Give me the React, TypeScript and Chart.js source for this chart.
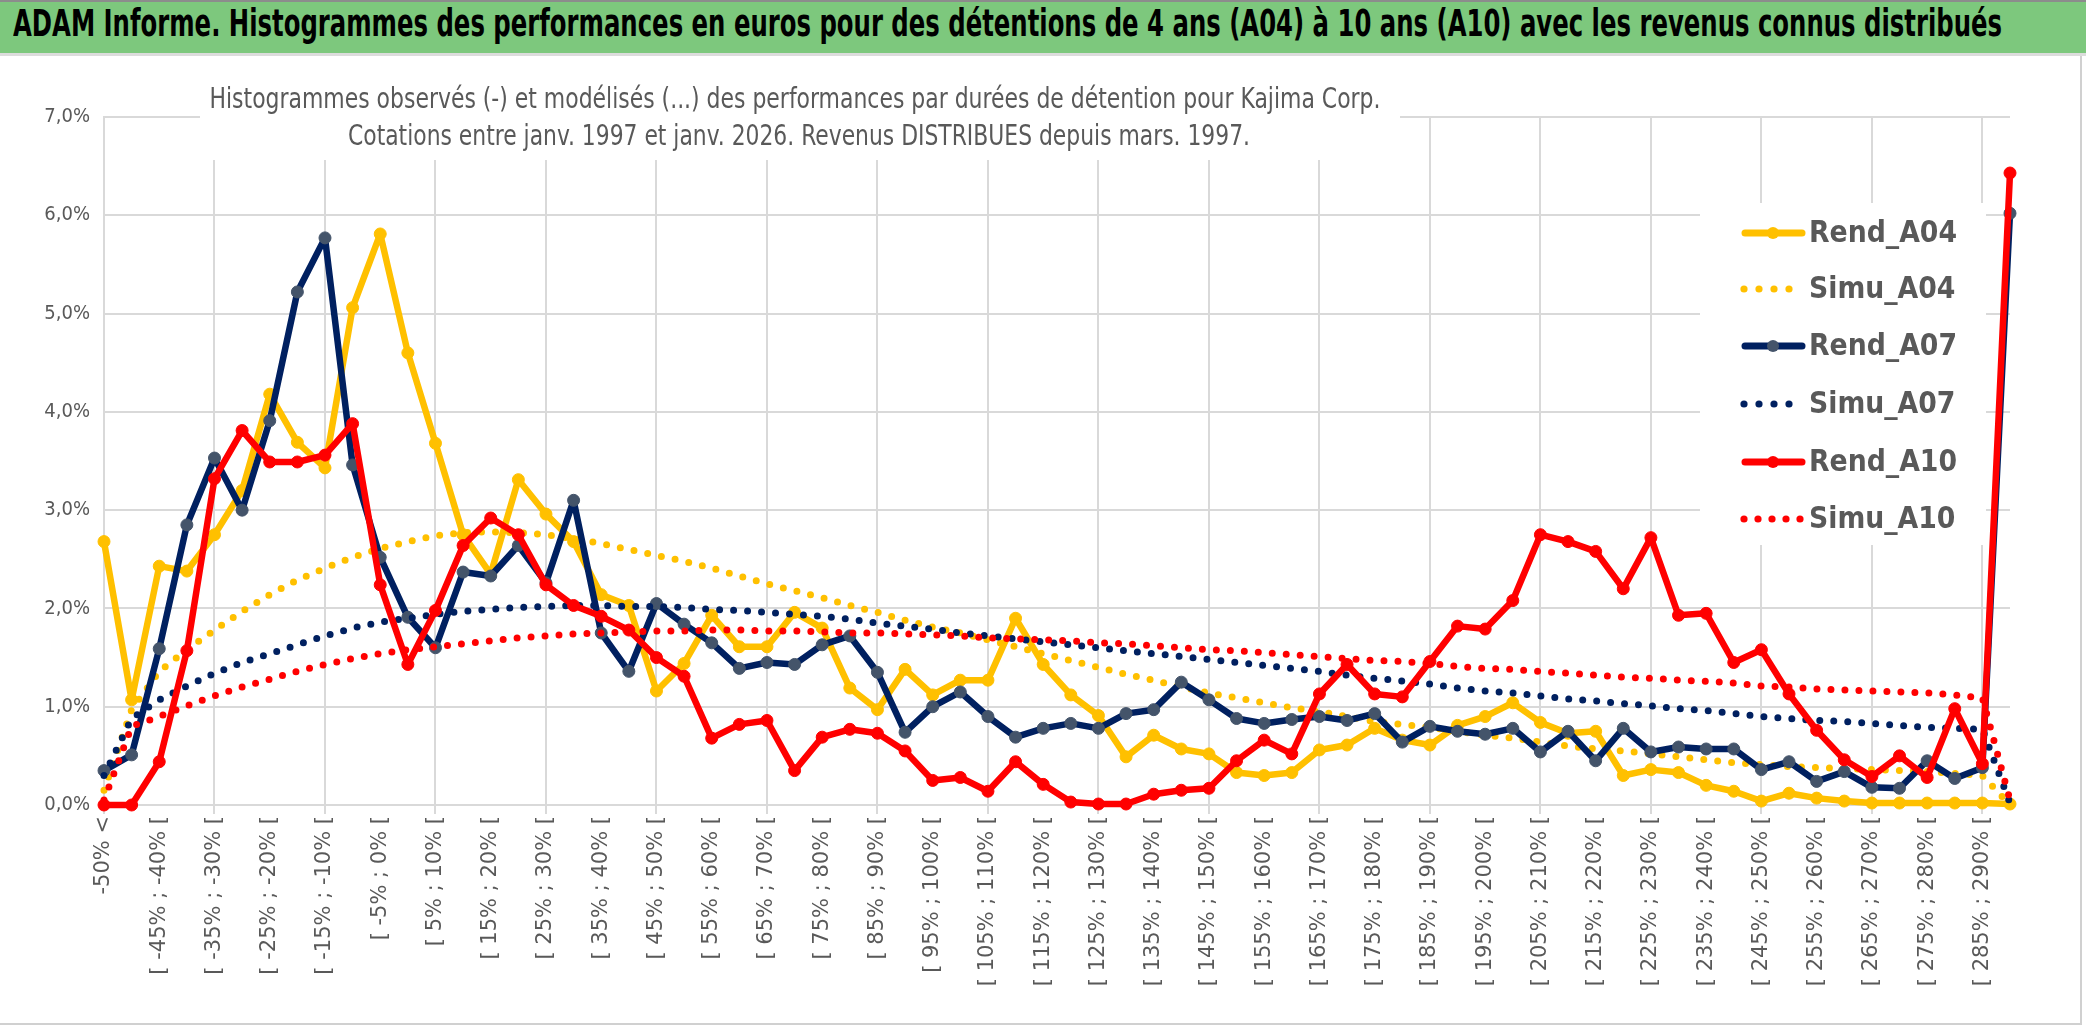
import React, { useEffect, useRef } from 'react';
import { Chart, registerables } from 'chart.js';

Chart.register(...registerables);

const categories: string[] = [
  '-50% <',
  '[ -50% ; -45% [', '[ -45% ; -40% [', '[ -40% ; -35% [', '[ -35% ; -30% [',
  '[ -30% ; -25% [', '[ -25% ; -20% [', '[ -20% ; -15% [', '[ -15% ; -10% [',
  '[ -10% ; -5% [', '[ -5% ; 0% [', '[ 0% ; 5% [', '[ 5% ; 10% [',
  '[ 10% ; 15% [', '[ 15% ; 20% [', '[ 20% ; 25% [', '[ 25% ; 30% [',
  '[ 30% ; 35% [', '[ 35% ; 40% [', '[ 40% ; 45% [', '[ 45% ; 50% [',
  '[ 50% ; 55% [', '[ 55% ; 60% [', '[ 60% ; 65% [', '[ 65% ; 70% [',
  '[ 70% ; 75% [', '[ 75% ; 80% [', '[ 80% ; 85% [', '[ 85% ; 90% [',
  '[ 90% ; 95% [', '[ 95% ; 100% [', '[ 100% ; 105% [', '[ 105% ; 110% [',
  '[ 110% ; 115% [', '[ 115% ; 120% [', '[ 120% ; 125% [', '[ 125% ; 130% [',
  '[ 130% ; 135% [', '[ 135% ; 140% [', '[ 140% ; 145% [', '[ 145% ; 150% [',
  '[ 150% ; 155% [', '[ 155% ; 160% [', '[ 160% ; 165% [', '[ 165% ; 170% [',
  '[ 170% ; 175% [', '[ 175% ; 180% [', '[ 180% ; 185% [', '[ 185% ; 190% [',
  '[ 190% ; 195% [', '[ 195% ; 200% [', '[ 200% ; 205% [', '[ 205% ; 210% [',
  '[ 210% ; 215% [', '[ 215% ; 220% [', '[ 220% ; 225% [', '[ 225% ; 230% [',
  '[ 230% ; 235% [', '[ 235% ; 240% [', '[ 240% ; 245% [', '[ 245% ; 250% [',
  '[ 250% ; 255% [', '[ 255% ; 260% [', '[ 260% ; 265% [', '[ 265% ; 270% [',
  '[ 270% ; 275% [', '[ 275% ; 280% [', '[ 280% ; 285% [', '[ 285% ; 290% [',
  '> 290%',
];

const rendA04: number[] = [
  2.68, 1.07, 2.43, 2.38, 2.75, 3.20, 4.18, 3.69, 3.43, 5.06,
  5.81, 4.60, 3.68, 2.75, 2.35, 3.31, 2.96, 2.68, 2.14, 2.03,
  1.16, 1.44, 1.93, 1.61, 1.61, 1.96, 1.80, 1.19, 0.97, 1.38,
  1.12, 1.27, 1.27, 1.90, 1.43, 1.12, 0.91, 0.49, 0.71, 0.57,
  0.52, 0.33, 0.30, 0.33, 0.56, 0.61, 0.78, 0.66, 0.61, 0.81,
  0.90, 1.04, 0.84, 0.73, 0.75, 0.30, 0.36, 0.33, 0.20, 0.14,
  0.04, 0.12, 0.07, 0.04, 0.02, 0.02, 0.02, 0.02, 0.02, 0.01,
];

const simuA04: number[] = [
  0.15, 0.97, 1.36, 1.58, 1.78, 1.97, 2.14, 2.29, 2.41, 2.52,
  2.61, 2.68, 2.74, 2.77, 2.78, 2.77, 2.75, 2.71, 2.66, 2.60,
  2.54, 2.48, 2.41, 2.33, 2.25, 2.18, 2.11, 2.03, 1.96, 1.88,
  1.81, 1.75, 1.68, 1.61, 1.54, 1.47, 1.40, 1.33, 1.27, 1.20,
  1.14, 1.09, 1.04, 0.99, 0.95, 0.90, 0.85, 0.82, 0.79, 0.75,
  0.71, 0.68, 0.64, 0.60, 0.57, 0.55, 0.52, 0.49, 0.46, 0.43,
  0.41, 0.39, 0.38, 0.37, 0.36, 0.35, 0.34, 0.32, 0.30, 0.00,
];

const rendA07: number[] = [
  0.35, 0.51, 1.59, 2.85, 3.53, 3.00, 3.91, 5.22, 5.77, 3.46,
  2.52, 1.91, 1.60, 2.37, 2.33, 2.64, 2.26, 3.10, 1.75, 1.36,
  2.05, 1.84, 1.65, 1.39, 1.45, 1.43, 1.63, 1.72, 1.35, 0.74,
  1.00, 1.15, 0.90, 0.69, 0.78, 0.83, 0.78, 0.93, 0.97, 1.25,
  1.07, 0.88, 0.83, 0.87, 0.90, 0.86, 0.93, 0.64, 0.80, 0.75,
  0.72, 0.78, 0.54, 0.75, 0.45, 0.78, 0.54, 0.59, 0.57, 0.57,
  0.36, 0.44, 0.24, 0.34, 0.18, 0.17, 0.45, 0.27, 0.38, 6.02,
];

const simuA07: number[] = [
  0.30, 0.88, 1.07, 1.21, 1.34, 1.45, 1.54, 1.63, 1.72, 1.80,
  1.86, 1.90, 1.94, 1.97, 1.99, 2.01, 2.02, 2.03, 2.03, 2.02,
  2.02, 2.01, 1.99, 1.98, 1.96, 1.94, 1.92, 1.89, 1.85, 1.82,
  1.79, 1.75, 1.72, 1.69, 1.66, 1.63, 1.60, 1.57, 1.54, 1.51,
  1.48, 1.45, 1.42, 1.39, 1.36, 1.32, 1.29, 1.26, 1.23, 1.19,
  1.16, 1.14, 1.11, 1.08, 1.06, 1.03, 1.01, 0.98, 0.96, 0.93,
  0.90, 0.88, 0.86, 0.85, 0.83, 0.81, 0.79, 0.78, 0.77, 0.02,
];

const rendA10: number[] = [
  0.00, 0.00, 0.44, 1.57, 3.32, 3.81, 3.49, 3.49, 3.56, 3.88,
  2.24, 1.43, 1.98, 2.64, 2.92, 2.75, 2.24, 2.03, 1.92, 1.78,
  1.50, 1.31, 0.68, 0.82, 0.86, 0.35, 0.69, 0.77, 0.73, 0.55,
  0.25, 0.28, 0.14, 0.44, 0.21, 0.03, 0.01, 0.01, 0.11, 0.15,
  0.17, 0.45, 0.66, 0.52, 1.13, 1.43, 1.13, 1.10, 1.46, 1.82,
  1.79, 2.08, 2.75, 2.68, 2.58, 2.20, 2.72, 1.93, 1.95, 1.45,
  1.58, 1.13, 0.76, 0.46, 0.29, 0.50, 0.28, 0.98, 0.42, 6.43,
];

const simuA10: number[] = [
  0.05, 0.80, 0.90, 1.01, 1.11, 1.20, 1.28, 1.36, 1.43, 1.49,
  1.54, 1.58, 1.61, 1.64, 1.67, 1.70, 1.72, 1.74, 1.75, 1.76,
  1.77, 1.77, 1.78, 1.78, 1.77, 1.77, 1.76, 1.75, 1.75, 1.74,
  1.73, 1.72, 1.70, 1.69, 1.68, 1.67, 1.65, 1.64, 1.62, 1.60,
  1.58, 1.57, 1.55, 1.53, 1.51, 1.49, 1.47, 1.46, 1.44, 1.41,
  1.39, 1.38, 1.36, 1.34, 1.32, 1.30, 1.29, 1.27, 1.26, 1.24,
  1.21, 1.20, 1.18, 1.17, 1.16, 1.15, 1.14, 1.12, 1.09, 0.05,
];

const yTickLabels: string[] = ['0,0%', '1,0%', '2,0%', '3,0%', '4,0%', '5,0%', '6,0%', '7,0%'];

const seriesNames: string[] = ['Rend_A04', 'Simu_A04', 'Rend_A07', 'Simu_A07', 'Rend_A10', 'Simu_A10'];

const TITLE = 'ADAM Informe. Histogrammes des performances en euros pour des détentions de 4 ans (A04) à 10 ans (A10) avec les revenus connus distribués';
const SUB1 = 'Histogrammes observés (-) et modélisés (...) des performances par durées de détention pour Kajima Corp.';
const SUB2 = 'Cotations entre janv. 1997 et janv. 2026. Revenus DISTRIBUES depuis mars. 1997.';

const YELLOW = '#FFC000';
const NAVY = '#002060';
const NAVY_MARK = '#44546A';
const RED = '#FF0000';
const GRID = '#d9d9d9';
const TXT = '#595959';
const NARROW = "'Liberation Sans Narrow', 'DejaVu Sans Condensed', 'Liberation Sans', sans-serif";

const PAGE_W = 2086;
const PAGE_H = 1031;
const CANVAS_TOP = 56;
const CANVAS_H = PAGE_H - CANVAS_TOP;

function measure(text: string, font: string): number {
  const c = document.createElement('canvas');
  const ctx = c.getContext('2d')!;
  ctx.font = font;
  return ctx.measureText(text).width;
}

function drawFitted(ctx: CanvasRenderingContext2D, text: string, font: string, x: number, y: number, targetW: number, align: CanvasTextAlign) {
  ctx.font = font;
  const w = ctx.measureText(text).width || 1;
  const s = targetW / w;
  ctx.save();
  ctx.translate(x, y);
  ctx.scale(s, 1);
  ctx.textAlign = align;
  ctx.textBaseline = 'middle';
  ctx.fillText(text, 0, 0);
  ctx.restore();
}

const overlayPlugin = {
  id: 'overlayBoxes',
  beforeDatasetsDraw(chart: any) {
    const ctx: CanvasRenderingContext2D = chart.ctx;
    const off = CANVAS_TOP;
    ctx.save();
    // subtitle box
    ctx.fillStyle = '#ffffff';
    ctx.fillRect(200, 80 - off, 1200, 80);
    ctx.fillStyle = TXT;
    drawFitted(ctx, SUB1, `29px ${NARROW}`, 795, 100 - off, 1171, 'center');
    drawFitted(ctx, SUB2, `29px ${NARROW}`, 799, 137 - off, 902, 'center');

    // legend box
    ctx.fillStyle = '#ffffff';
    ctx.fillRect(1700, 203 - off, 286, 342);
    const rows = [233, 289, 346, 404, 462, 519];
    const font = `bold 31px ${NARROW}`;
    ctx.font = font;
    const sc = 148 / (ctx.measureText('Rend_A04').width || 1);
    chart.data.datasets.forEach((ds: any, i: number) => {
      const y = rows[i] - off;
      const solid = !ds.borderDash || ds.borderDash.length === 0;
      if (solid) {
        ctx.strokeStyle = ds.borderColor;
        ctx.lineWidth = 7;
        ctx.lineCap = 'round';
        ctx.beginPath();
        ctx.moveTo(1745, y);
        ctx.lineTo(1802, y);
        ctx.stroke();
        ctx.fillStyle = ds.pointBackgroundColor;
        ctx.beginPath();
        ctx.arc(1773, y, 6, 0, Math.PI * 2);
        ctx.fill();
      } else {
        ctx.fillStyle = ds.borderColor;
        const n = i === 5 ? 5 : 4;
        const step = i === 5 ? 14 : 15;
        for (let k = 0; k < n; k++) {
          ctx.beginPath();
          ctx.arc(1744 + k * step, y, 3.6, 0, Math.PI * 2);
          ctx.fill();
        }
      }
      ctx.fillStyle = TXT;
      ctx.save();
      ctx.translate(1809, y + 1);
      ctx.scale(sc, 1);
      ctx.font = font;
      ctx.textAlign = 'left';
      ctx.textBaseline = 'middle';
      ctx.fillText(seriesNames[i], 0, 0);
      ctx.restore();
    });
    ctx.restore();
  },
};

export default function App() {
  const canvasRef = useRef<HTMLCanvasElement | null>(null);

  useEffect(() => {
    document.body.style.margin = '0';
    document.body.style.background = '#ffffff';
    const canvas = canvasRef.current;
    if (!canvas) return;

    const solid = (label: string, data: number[], color: string, mark: string, order: number) => ({
      label,
      data,
      borderColor: color,
      backgroundColor: color,
      pointBackgroundColor: mark,
      pointBorderColor: mark,
      pointRadius: 6,
      pointBorderWidth: 1,
      pointHoverRadius: 6,
      borderWidth: 6.5,
      borderJoinStyle: 'round' as const,
      borderCapStyle: 'round' as const,
      tension: 0,
      fill: false,
      clip: false as const,
      order,
    });
    const dotted = (label: string, data: number[], color: string, order: number) => ({
      label,
      data,
      borderColor: color,
      backgroundColor: color,
      pointRadius: 0,
      pointHoverRadius: 0,
      borderWidth: 7,
      borderDash: [0, 14],
      borderCapStyle: 'round' as const,
      tension: 0,
      fill: false,
      clip: false as const,
      order,
    });

    const chart = new Chart(canvas, {
      type: 'line',
      data: {
        labels: categories,
        datasets: [
          solid(seriesNames[0], rendA04, YELLOW, YELLOW, 6),
          dotted(seriesNames[1], simuA04, YELLOW, 5),
          solid(seriesNames[2], rendA07, NAVY, NAVY_MARK, 4),
          dotted(seriesNames[3], simuA07, NAVY, 3),
          solid(seriesNames[4], rendA10, RED, RED, 2),
          dotted(seriesNames[5], simuA10, RED, 1),
        ] as any,
      },
      options: {
        animation: false,
        responsive: false,
        devicePixelRatio: 1,
        events: [],
        layout: { padding: { left: 0, right: PAGE_W - 2010, top: 117 - CANVAS_TOP, bottom: 0 } },
        plugins: {
          legend: { display: false },
          title: { display: false },
          tooltip: { enabled: false },
        },
        scales: {
          x: {
            type: 'category',
            offset: false,
            afterFit: (scale: any) => {
              scale.height = PAGE_H - 805;
            },
            grid: {
              color: (ctx: any) => (ctx.index % 4 === 0 ? GRID : 'rgba(0,0,0,0)'),
              lineWidth: 2,
              tickLength: 9,
              drawOnChartArea: true,
            },
            border: { color: GRID, width: 2 },
            ticks: {
              autoSkip: false,
              minRotation: 90,
              maxRotation: 90,
              padding: 2,
              color: TXT,
              font: { family: "'DejaVu Sans', sans-serif", size: 21 },
              callback: (_v: any, i: number) => (i % 2 === 0 ? categories[i] : ''),
            },
          },
          y: {
            min: 0,
            max: 7,
            afterFit: (scale: any) => {
              scale.width = 104;
            },
            grid: { color: GRID, lineWidth: 2, drawTicks: false },
            border: { color: GRID, width: 2 },
            ticks: {
              stepSize: 1,
              padding: 14,
              color: TXT,
              font: { family: NARROW, size: 20 },
              callback: (v: any) => yTickLabels[Math.round(Number(v))] ?? '',
            },
          },
        },
      },
      plugins: [overlayPlugin],
    });

    return () => {
      chart.destroy();
    };
  }, []);

  const titleFont = `bold 37px ${NARROW}`;
  let titleScale = 1;
  try {
    const w = measure(TITLE, titleFont);
    if (w > 0) titleScale = 1989 / w;
  } catch (e) {
    titleScale = 1;
  }

  return (
    <div style={{ position: 'relative', width: PAGE_W, height: PAGE_H, background: '#ffffff', overflow: 'hidden' }}>
      <div
        style={{
          position: 'absolute',
          left: 0,
          top: 0,
          width: PAGE_W,
          height: 51,
          background: '#7DC87D',
          borderTop: '2px solid #8c8c8c',
          borderBottom: '3px solid #dcdcdc',
          boxSizing: 'content-box',
        }}
      >
        <div
          style={{
            position: 'absolute',
            left: 13,
            top: 0,
            height: 51,
            lineHeight: '51px',
            font: titleFont,
            color: '#000000',
            whiteSpace: 'nowrap',
            transform: `scaleX(${titleScale})`,
            transformOrigin: 'left center',
          }}
        >
          {TITLE}
        </div>
      </div>
      <div
        style={{
          position: 'absolute',
          left: 0,
          top: CANVAS_TOP,
          width: 2080,
          height: 1023 - CANVAS_TOP,
          borderRight: '2px solid #d0d0d0',
          borderBottom: '2px solid #d0d0d0',
          pointerEvents: 'none',
        }}
      />
      <canvas
        ref={canvasRef}
        width={PAGE_W}
        height={CANVAS_H}
        style={{ position: 'absolute', left: 0, top: CANVAS_TOP, width: PAGE_W, height: CANVAS_H }}
      />
    </div>
  );
}
